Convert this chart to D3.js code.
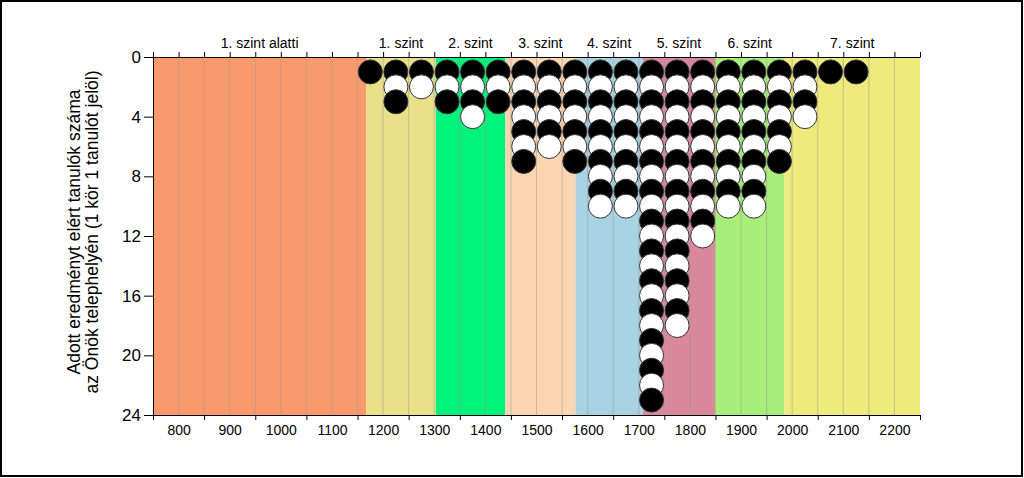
<!DOCTYPE html>
<html>
<head>
<meta charset="utf-8">
<script src="https://cdn.jsdelivr.net/npm/d3@7"></script>
<style>
	body { margin: 0; background: white; }
	text { font-family: Arial, "Liberation Sans", sans-serif; }
</style>
</head>
<body>
<div id="chart"></div>
<script>
// level bands (score limits) and their names / colours
var levelLimits = [750, 1167, 1303, 1439, 1576, 1708, 1849, 1985, 2250];
var levelNames = ["1. szint alatti", "1. szint", "2. szint", "3. szint", "4. szint", "5. szint", "6. szint", "7. szint"];
var levelColors = ["#F99A6D", "#EAE08A", "#00F27A", "#FDD5B2", "#A9D3E3", "#D9879B", "#A8EE7A", "#EEEA7C"];

// students per 50-point bin (bin centre -> count)
var binCenters = [1175, 1225, 1275, 1325, 1375, 1425, 1475, 1525, 1575, 1625, 1675, 1725, 1775, 1825, 1875, 1925, 1975, 2025, 2075, 2125];
var binCounts  = [1, 3, 2, 3, 4, 3, 7, 6, 7, 10, 10, 23, 18, 12, 10, 10, 7, 4, 1, 1];

var yTicks = [0, 4, 8, 12, 16, 20, 24];
var xLabels = [800, 900, 1000, 1100, 1200, 1300, 1400, 1500, 1600, 1700, 1800, 1900, 2000, 2100, 2200];

var width = 1024,
	height = 478,
	plotLeft = 153,
	plotRight = 920,
	plotTop = 57,
	plotBottom = 415;

var x = d3.scaleLinear().domain([750, 2250]).range([plotLeft, plotRight]);
var y = d3.scaleLinear().domain([0, 24]).range([plotTop, plotBottom]);

var svg = d3.select("#chart")
	.append("svg")
	.attr("width", width)
	.attr("height", height);

svg.append("rect")
	.attr("width", width)
	.attr("height", height)
	.attr("fill", "white");

// coloured level bands
svg.selectAll(".band")
	.data(levelNames)
	.enter()
	.append("rect")
	.attr("class", "band")
	.attr("x", function (d, i) { return x(levelLimits[i]); })
	.attr("y", plotTop)
	.attr("width", function (d, i) { return x(levelLimits[i + 1]) - x(levelLimits[i]); })
	.attr("height", plotBottom - plotTop)
	.attr("fill", function (d, i) { return levelColors[i]; });

// vertical grid every 50 points
svg.selectAll(".grid")
	.data(d3.range(800, 2250, 50))
	.enter()
	.append("line")
	.attr("class", "grid")
	.attr("x1", function (d) { return x(d); })
	.attr("x2", function (d) { return x(d); })
	.attr("y1", plotTop)
	.attr("y2", plotBottom)
	.attr("stroke", "#9a9a9a")
	.attr("stroke-opacity", 0.5)
	.attr("stroke-width", 1);

// circles, one per student, stacked downwards
var dots = [];
binCenters.forEach(function (c, i) {
	for (var k = 1; k <= binCounts[i]; k++) {
		dots.push({ score: c, n: k });
	}
});

svg.selectAll(".dot")
	.data(dots)
	.enter()
	.append("circle")
	.attr("class", "dot")
	.attr("cx", function (d) { return x(d.score); })
	.attr("cy", function (d) { return y(d.n); })
	.attr("r", 12)
	.attr("fill", function (d) { return (d.n % 2 == 1) ? "black" : "white"; })
	.attr("stroke", "#333")
	.attr("stroke-width", 1);

// top axis with level names
svg.append("g")
	.attr("transform", "translate(0," + plotTop + ")")
	.call(d3.axisTop(x).tickValues(d3.range(750, 2251, 50)).tickSize(5).tickSizeOuter(0).tickFormat(""));

svg.selectAll(".levelname")
	.data(levelNames)
	.enter()
	.append("text")
	.attr("class", "levelname")
	.attr("x", function (d, i) { return x((levelLimits[i] + levelLimits[i + 1]) / 2); })
	.attr("y", 48)
	.attr("text-anchor", "middle")
	.style("font-size", "14px")
	.text(function (d) { return d; });

// bottom axis: ticks between the labels
svg.append("g")
	.attr("transform", "translate(0," + plotBottom + ")")
	.call(d3.axisBottom(x).tickValues(d3.range(750, 2251, 100)).tickSize(5).tickSizeOuter(0).tickFormat(""));

svg.append("g")
	.attr("transform", "translate(0," + plotBottom + ")")
	.call(d3.axisBottom(x).tickValues(xLabels).tickSize(0).tickPadding(10).tickFormat(d3.format("d")))
	.call(function (g) { g.select(".domain").remove(); })
	.selectAll("text")
	.style("font-size", "14px")
	.attr("fill", "black");

// left axis
svg.append("g")
	.attr("transform", "translate(" + plotLeft + ",0)")
	.call(d3.axisLeft(y).tickValues(yTicks).tickSize(9).tickSizeOuter(0).tickFormat(d3.format("d")))
	.selectAll("text")
	.style("font-size", "17px")
	.attr("fill", "black");

svg.selectAll(".domain, .tick line").attr("stroke", "black");

var title = svg.append("text")
	.attr("transform", "translate(80,232) rotate(-90)")
	.attr("text-anchor", "middle")
	.style("font-size", "17.5px");
title.append("tspan").attr("x", 0).attr("dy", 0).text("Adott eredményt elért tanulók száma");
title.append("tspan").attr("x", 0).attr("dy", "1.05em").text("az Önök telephelyén (1 kör 1 tanulót jelöl)");

// outer frame
svg.append("rect")
	.attr("x", 1)
	.attr("y", 1)
	.attr("width", 1021)
	.attr("height", 475)
	.attr("fill", "none")
	.attr("stroke", "black")
	.attr("stroke-width", 2);
</script>
</body>
</html>
